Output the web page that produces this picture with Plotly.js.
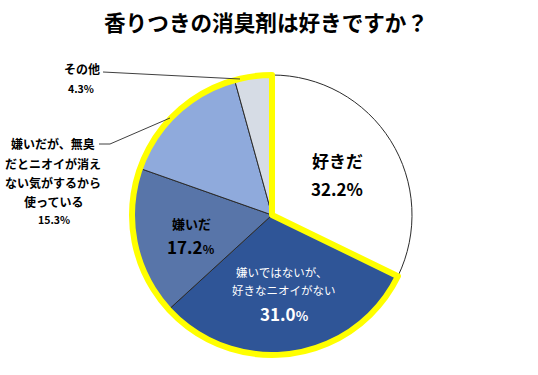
<!DOCTYPE html>
<html>
<head>
<meta charset="utf-8">
<script src="https://cdn.plot.ly/plotly-3.0.1.min.js"></script>
<style>html,body{margin:0;padding:0;background:#fff;}#chart{width:538px;height:375px;}</style>
</head>
<body>
<div id="chart"></div>
<script>
// ---- data ----
const titleText = '香りつきの消臭剤は好きですか？';
const categories = ['好きだ', '嫌いではないが、好きなニオイがない', '嫌いだ', '嫌いだが、無臭だとニオイが消えない気がするから使っている', 'その他'];
const values = [32.2, 31.0, 17.2, 15.3, 4.3];
const labelLines = [
  ['好きだ'],
  ['嫌いではないが、', '好きなニオイがない'],
  ['嫌いだ'],
  ['嫌いだが、無臭', 'だとニオイが消え', 'ない気がするから', '使っている'],
  ['その他']
];
const sliceColors = ['#FFFFFF', '#2F5597', '#5875A9', '#8FAADC', '#D6DCE5'];

// ---- layout helpers ----
const W = 538, H = 375;
const px = x => x / W;
const py = y => 1 - y / H;
const FONT = '"Noto Sans CJK JP", "Noto Sans", sans-serif';
const pct = v => v.toFixed(1) + '%';

const cx = 272, cy = 215, R = 140;
const domain = {x: [px(cx - R), px(cx + R)], y: [py(cy + R), py(cy - R)]};

const mainPie = {
  type: 'pie',
  labels: categories,
  values: values,
  sort: false,
  direction: 'clockwise',
  rotation: 0,
  domain: domain,
  marker: {colors: sliceColors, line: {color: '#2b2b2b', width: 1}},
  textinfo: 'none',
  hoverinfo: 'label+percent',
  showlegend: false
};

// yellow highlight around every slice except the first
const rest = values.slice(1).reduce((a, b) => a + b, 0);
const highlight = {
  type: 'pie',
  labels: ['a', 'b'],
  values: [values[0], rest],
  sort: false,
  direction: 'clockwise',
  rotation: 0,
  domain: domain,
  marker: {colors: ['rgba(0,0,0,0)', 'rgba(0,0,0,0)'],
           line: {color: ['rgba(0,0,0,0)', '#FFFF00'], width: [0, 6]}},
  textinfo: 'none',
  hoverinfo: 'skip',
  showlegend: false
};

// label placement (pixel positions)
const ann = [];
function add(text, x, y, size, color, bold) {
  ann.push({text: text, x: px(x), y: py(y), xref: 'paper', yref: 'paper',
    xanchor: 'center', yanchor: 'middle', showarrow: false,
    font: {family: FONT, size: size, color: color, weight: bold ? 'bold' : 'normal'}});
}
// slice 0: 好きだ
add(labelLines[0][0], 337, 160, 17, '#000', true);
add(pct(values[0]), 337, 188, 17, '#000', true);
// slice 1
add(labelLines[1][0], 281, 272, 11.5, '#fff', false);
add(labelLines[1][1], 284, 290, 11.5, '#fff', false);
add('<b>' + values[1].toFixed(1) + '</b><span style="font-size:13px"><b>%</b></span>', 284, 313, 17, '#fff', true);
// slice 2
add(labelLines[2][0], 191, 223, 13, '#000', true);
add('<b>' + values[2].toFixed(1) + '</b><span style="font-size:12px">%</span>', 191, 247, 17, '#000', true);
// slice 3 (outside)
const l3y = [143, 163, 182, 202];
labelLines[3].forEach((t, i) => add(t, 53, l3y[i], 12, '#000', true));
add(pct(values[3]), 54, 219, 10.5, '#000', true);
// slice 4 (outside)
add(labelLines[4][0], 82, 68, 12, '#000', true);
add(pct(values[4]), 81, 88, 10.5, '#000', true);

const lineStyle = {color: '#404040', width: 1};
const shapes = [
  {type: 'path', xref: 'paper', yref: 'paper',
   path: `M ${px(103)} ${py(72)} L ${px(240)} ${py(79)}`, line: lineStyle},
  {type: 'path', xref: 'paper', yref: 'paper',
   path: `M ${px(99)} ${py(144)} L ${px(110)} ${py(144)} L ${px(170)} ${py(118)}`, line: lineStyle}
];

const layout = {
  width: W, height: H,
  margin: {l: 0, r: 0, t: 0, b: 0},
  paper_bgcolor: '#fff',
  showlegend: false,
  title: {text: titleText, x: px(266), xanchor: 'center', y: py(23), yanchor: 'middle',
          font: {family: FONT, size: 21.6, color: '#000', weight: 'bold'}},
  annotations: ann,
  shapes: shapes
};

Plotly.newPlot('chart', [mainPie, highlight], layout, {displayModeBar: false, staticPlot: true});
</script>
</body>
</html>
